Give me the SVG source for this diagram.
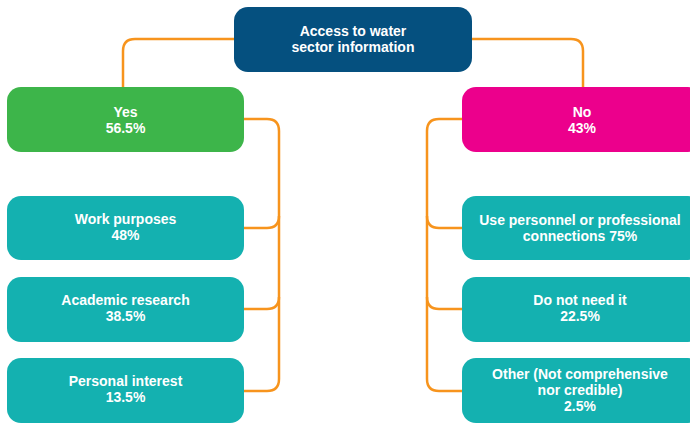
<svg xmlns="http://www.w3.org/2000/svg" width="690" height="423" viewBox="0 0 690 423">
<style>
.t{font-family:"Liberation Sans",Arial,sans-serif;font-weight:bold;font-size:14px;fill:#fff;text-anchor:middle}
.c{fill:none;stroke:#f7941d;stroke-width:2.5}
.teal{fill:#14b1b0}
</style>
<rect width="690" height="423" fill="#fff"/>
<g id="connectors">
<path class="c" d="M234,39 H135 Q123,39 123,51 V88"/>
<path class="c" d="M472,39 H571 Q583,39 583,51 V88"/>
<path class="c" d="M244,119 H267 Q279,119 279,131 V379 Q279,391 267,391 H244"/>
<path class="c" d="M279,216 Q279,228 267,228 H244"/>
<path class="c" d="M279,297 Q279,309 267,309 H244"/>
<path class="c" d="M462,119 H439 Q427,119 427,131 V379 Q427,391 439,391 H462"/>
<path class="c" d="M427,216 Q427,228 439,228 H462"/>
<path class="c" d="M427,297 Q427,309 439,309 H462"/>
</g>
<g id="root">
<rect x="234" y="7" width="238" height="65" rx="14" fill="#05507f"/>
<text class="t" x="353" y="36">Access to water</text>
<text class="t" x="353" y="52">sector information</text>
</g>
<g id="yes">
<rect x="7" y="87" width="237" height="65" rx="14" fill="#3db54a"/>
<text class="t" x="125.5" y="117">Yes</text>
<text class="t" x="125.5" y="133">56.5%</text>
</g>
<g id="no">
<rect x="462" y="87" width="240" height="65" rx="14" fill="#ec008c"/>
<text class="t" x="582" y="117">No</text>
<text class="t" x="582" y="133">43%</text>
</g>
<g id="work">
<rect class="teal" x="7" y="196" width="237" height="64" rx="14"/>
<text class="t" x="125.5" y="224">Work purposes</text>
<text class="t" x="125.5" y="240">48%</text>
</g>
<g id="academic">
<rect class="teal" x="7" y="277" width="237" height="65" rx="14"/>
<text class="t" x="125.5" y="305">Academic research</text>
<text class="t" x="125.5" y="321">38.5%</text>
</g>
<g id="personal">
<rect class="teal" x="7" y="358" width="237" height="65" rx="14"/>
<text class="t" x="125.5" y="386">Personal interest</text>
<text class="t" x="125.5" y="402">13.5%</text>
</g>
<g id="connections">
<rect class="teal" x="462" y="196" width="240" height="64" rx="14"/>
<text class="t" x="580" y="225">Use personnel or professional</text>
<text class="t" x="580" y="241">connections 75%</text>
</g>
<g id="noneed">
<rect class="teal" x="462" y="277" width="240" height="65" rx="14"/>
<text class="t" x="580" y="305">Do not need it</text>
<text class="t" x="580" y="321">22.5%</text>
</g>
<g id="other">
<rect class="teal" x="462" y="358" width="240" height="65" rx="14"/>
<text class="t" x="580" y="379">Other (Not comprehensive</text>
<text class="t" x="580" y="395">nor credible)</text>
<text class="t" x="580" y="411">2.5%</text>
</g>
</svg>
